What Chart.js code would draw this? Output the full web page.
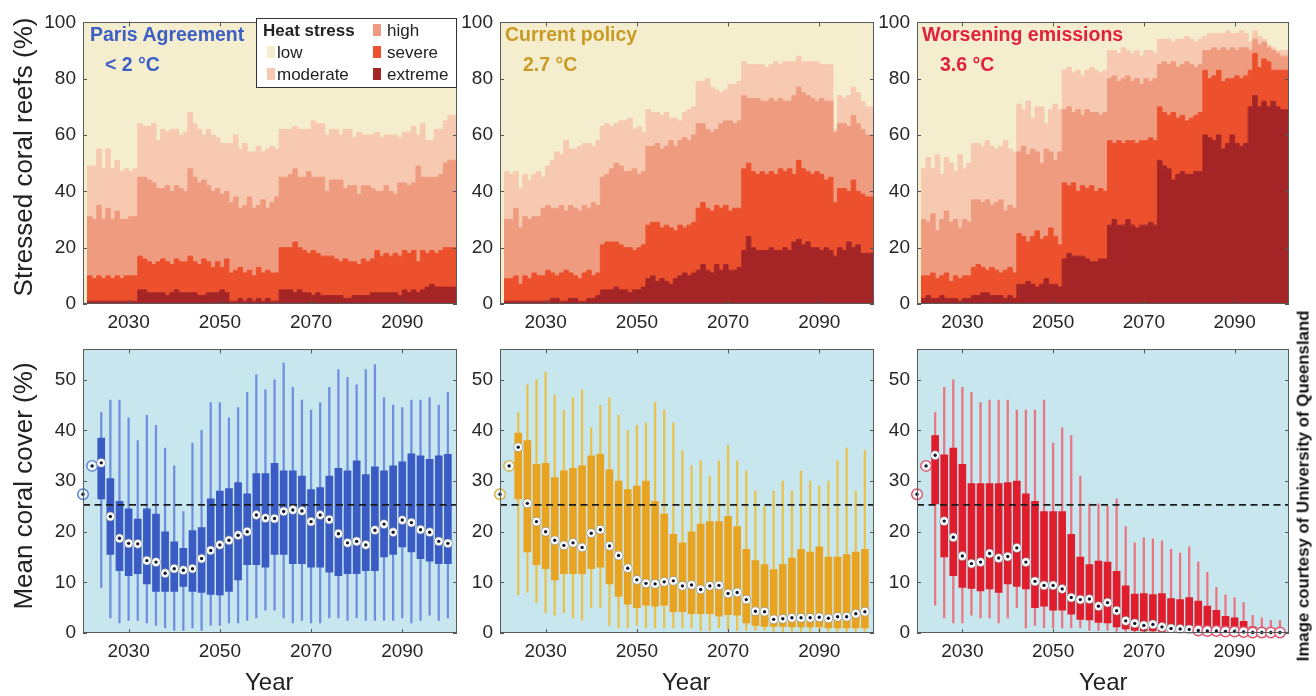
<!DOCTYPE html>
<html>
<head>
<meta charset="utf-8">
<title>Coral reef heat stress and coral cover projections</title>
<script src="https://cdn.jsdelivr.net/npm/chart.js@4.4.1/dist/chart.umd.min.js"></script>
<style>
  body { margin: 0; background: #fff; }
  #wrap { position: relative; width: 1316px; height: 696px; overflow: hidden;
          font-family: "Liberation Sans", Arial, sans-serif; color: #222; }
  canvas { position: absolute; }
  .lbl { position: absolute; white-space: nowrap; line-height: 1; transform: translateY(-50%); z-index: 10; }
  .rot { position: absolute; white-space: nowrap; line-height: 1; transform: translate(-50%, -50%) rotate(-90deg); z-index: 10; }
  .ttl { font-weight: bold; font-size: 19.5px; }
  #legend { position: absolute; left: 256px; top: 18px; width: 199px; height: 68px; background: #fff;
            border: 1px solid #333; z-index: 10; font-size: 17px; color: #222; }
  #legend .sw { position: absolute; width: 8px; height: 12px; }
  #legend .it { position: absolute; white-space: nowrap; line-height: 1; transform: translateY(-50%); }
</style>
</head>
<body>
<div id="wrap">
  <div class="rot" style="left:23px; top:157px; font-size:26px;">Stressed coral reefs (%)</div>
  <div class="rot" style="left:23px; top:486px; font-size:26px;">Mean coral cover (%)</div>

  <div class="lbl ttl" style="left:90px; top:35px; color:#3d5fc5;">Paris Agreement</div>
  <div class="lbl ttl" style="left:105px; top:65px; color:#3d5fc5;">&lt; 2 °C</div>
  <div class="lbl ttl" style="left:505px; top:35px; color:#c99a24;">Current policy</div>
  <div class="lbl ttl" style="left:523px; top:65px; color:#c99a24;">2.7 °C</div>
  <div class="lbl ttl" style="left:922px; top:35px; color:#e2213b;">Worsening emissions</div>
  <div class="lbl ttl" style="left:940px; top:65px; color:#e2213b;">3.6 °C</div>

  <div id="legend">
    <div class="it" style="left:6px; top:11px; font-weight:bold;">Heat stress</div>
    <div class="sw" id="sw-low" style="left:10px; top:27px;"></div>
    <div class="it" style="left:20px; top:33px;">low</div>
    <div class="sw" id="sw-moderate" style="left:10px; top:49px;"></div>
    <div class="it" style="left:20px; top:55px;">moderate</div>
    <div class="sw" id="sw-high" style="left:116px; top:5px;"></div>
    <div class="it" style="left:130px; top:11px;">high</div>
    <div class="sw" id="sw-severe" style="left:116px; top:27px;"></div>
    <div class="it" style="left:130px; top:33px;">severe</div>
    <div class="sw" id="sw-extreme" style="left:116px; top:49px;"></div>
    <div class="it" style="left:130px; top:55px;">extreme</div>
  </div>

  <div class="lbl" style="left:245px; top:682px; font-size:24px;">Year</div>
  <div class="lbl" style="left:662px; top:682px; font-size:24px;">Year</div>
  <div class="lbl" style="left:1079px; top:682px; font-size:24px;">Year</div>

  <div class="rot" style="left:1304px; top:486px; font-size:16.8px; font-weight:bold; color:#111;">Image courtesy of University of Queensland</div>
</div>

<script>
// ---------- axis categories and tick labels ----------
const stressYears = [
  2020, 2021, 2022, 2023, 2024, 2025, 2026, 2027, 2028, 2029,
  2030, 2031, 2032, 2033, 2034, 2035, 2036, 2037, 2038, 2039,
  2040, 2041, 2042, 2043, 2044, 2045, 2046, 2047, 2048, 2049,
  2050, 2051, 2052, 2053, 2054, 2055, 2056, 2057, 2058, 2059,
  2060, 2061, 2062, 2063, 2064, 2065, 2066, 2067, 2068, 2069,
  2070, 2071, 2072, 2073, 2074, 2075, 2076, 2077, 2078, 2079,
  2080, 2081, 2082, 2083, 2084, 2085, 2086, 2087, 2088, 2089,
  2090, 2091, 2092, 2093, 2094, 2095, 2096, 2097, 2098, 2099,
  2100, 2101
];
const boxYears = [
  2020, 2022, 2024, 2026, 2028, 2030, 2032, 2034, 2036, 2038,
  2040, 2042, 2044, 2046, 2048, 2050, 2052, 2054, 2056, 2058,
  2060, 2062, 2064, 2066, 2068, 2070, 2072, 2074, 2076, 2078,
  2080, 2082, 2084, 2086, 2088, 2090, 2092, 2094, 2096, 2098, 2100
];
const yearTicks = [2030, 2050, 2070, 2090];
const stressTicks = [0, 20, 40, 60, 80, 100];
const coverTicks = [0, 10, 20, 30, 40, 50];
const referenceCover = 25.3;   // present-day mean coral cover (dashed line)

// ---------- share of reefs at or above each heat-stress level (%) ----------
// Paris Agreement (< 2 °C)
const parisModerate = [53, 0,
  49, 49, 55, 48, 55, 48, 51, 47, 48, 47, 48,
  64, 63, 63, 64, 58, 62, 61, 62, 62, 60, 61,
  68, 64, 62, 60, 62, 60, 59, 57, 57, 57,
  60, 55, 57, 54, 54, 56, 54, 55, 56, 55,
  62, 62, 62, 63, 62, 62, 62, 65, 64, 64,
  60, 62, 62, 60, 62, 62, 59, 61, 60, 60,
  60, 61, 59, 60, 60, 60, 59, 61, 61, 63,
  60, 64, 58, 58, 62, 62, 65, 67];
const parisHigh = [6, 0,
  31, 30, 35, 30, 34, 30, 33, 30, 30, 31, 31,
  45, 45, 44, 43, 41, 41, 42, 40, 42, 41, 40,
  48, 45, 43, 44, 42, 40, 41, 39, 40, 36,
  38, 34, 35, 38, 34, 35, 37, 34, 36, 38,
  45, 45, 46, 48, 45, 45, 47, 45, 45, 45,
  40, 44, 44, 44, 41, 42, 42, 39, 42, 42,
  41, 40, 40, 42, 40, 39, 43, 43, 42, 43,
  49, 45, 45, 45, 45, 46, 50, 51];
const parisSevere = [5, 0,
  10, 9, 10, 9, 10, 9, 10, 9, 10, 10, 10,
  17, 16, 15, 14, 15, 16, 15, 14, 16, 15, 15,
  17, 15, 14, 16, 15, 13, 15, 13, 16, 11,
  12, 13, 11, 12, 10, 13, 11, 12, 11, 11,
  20, 20, 20, 22, 20, 19, 18, 19, 18, 17,
  17, 17, 16, 15, 16, 15, 15, 14, 16, 15,
  16, 19, 17, 18, 17, 18, 17, 19, 18, 19,
  15, 19, 18, 19, 18, 19, 20, 20];
const parisExtreme = [0, 0,
  1, 1, 1, 1, 1, 1, 1, 1, 1, 1, 1,
  5, 5, 4, 4, 4, 4, 3, 4, 5, 4, 4,
  4, 4, 3, 3, 4, 4, 4, 5, 4, 1,
  1, 2, 1, 2, 1, 2, 1, 2, 1, 1,
  5, 5, 5, 4, 5, 4, 4, 3, 4, 3,
  3, 3, 3, 3, 2, 2, 3, 3, 3, 3,
  4, 4, 4, 4, 4, 4, 3, 5, 4, 5,
  4, 5, 6, 7, 6, 6, 6, 6];

// Current policy (2.7 °C)
const policyModerate = [53, 0,
  47, 46, 47, 41, 46, 44, 46, 47, 45, 49, 51,
  54, 53, 58, 55, 55, 56, 57, 57, 56, 58, 63,
  64, 63, 64, 65, 65, 66, 62, 63, 61, 69,
  68, 68, 67, 68, 66, 66, 65, 68, 69, 70,
  79, 79, 80, 77, 76, 75, 76, 78, 78, 79,
  86, 85, 85, 85, 85, 84, 85, 86, 85, 86,
  86, 86, 88, 86, 86, 86, 86, 85, 85, 85,
  62, 74, 73, 74, 77, 75, 72, 70];
const policyHigh = [6, 0,
  30, 30, 34, 27, 31, 30, 31, 31, 34, 35, 34,
  34, 35, 33, 35, 34, 33, 35, 34, 36, 35, 45,
  46, 48, 50, 49, 47, 47, 48, 46, 47, 56,
  56, 57, 55, 56, 58, 56, 58, 59, 58, 60,
  64, 64, 62, 61, 62, 64, 65, 65, 64, 65,
  74, 73, 73, 73, 72, 72, 73, 72, 73, 72,
  72, 74, 77, 75, 74, 73, 72, 73, 72, 72,
  61, 64, 64, 63, 67, 64, 62, 60];
const policySevere = [5, 0,
  9, 9, 10, 7, 10, 9, 11, 10, 10, 12, 11,
  10, 11, 12, 11, 10, 9, 11, 12, 10, 11, 21,
  22, 22, 22, 21, 20, 20, 19, 20, 21, 28,
  29, 29, 27, 28, 27, 26, 28, 27, 28, 29,
  34, 36, 34, 33, 35, 34, 35, 33, 34, 34,
  48, 50, 47, 46, 47, 46, 47, 46, 48, 47,
  48, 46, 51, 48, 47, 46, 47, 46, 44, 45,
  36, 41, 41, 40, 44, 40, 39, 38];
const policyExtreme = [0, 0,
  1, 1, 1, 1, 1, 1, 1, 1, 1, 1, 2,
  2, 1, 1, 2, 2, 1, 1, 2, 2, 3, 5,
  5, 5, 6, 5, 5, 4, 5, 5, 6, 9,
  10, 8, 9, 8, 7, 9, 10, 11, 10, 11,
  12, 14, 12, 11, 14, 12, 14, 12, 12, 13,
  19, 24, 20, 19, 19, 19, 20, 19, 19, 20,
  19, 22, 23, 21, 22, 20, 20, 19, 20, 19,
  17, 20, 19, 22, 20, 21, 18, 18];

// Worsening emissions (3.6 °C)
const worseModerate = [53, 0,
  48, 52, 48, 53, 46, 52, 50, 47, 53, 48, 50,
  57, 57, 56, 58, 56, 55, 56, 58, 55, 54,
  71, 69, 72, 66, 70, 70, 64, 69, 71, 69,
  83, 84, 82, 83, 81, 83, 84, 83, 82, 83,
  90, 90, 89, 91, 90, 89, 90, 88, 90, 90, 89,
  94, 94, 94, 93, 94, 94, 95, 94, 93, 94,
  95, 96, 96, 96, 96, 97, 96, 96, 97, 96,
  93, 97, 95, 94, 92, 91, 90, 90];
const worseHigh = [6, 0,
  30, 29, 32, 26, 30, 33, 29, 30, 27, 30, 29,
  37, 37, 36, 37, 35, 36, 37, 33, 35, 34,
  54, 56, 53, 55, 54, 50, 55, 54, 51, 54,
  69, 70, 68, 69, 67, 69, 68, 68, 67, 68,
  80, 81, 79, 80, 81, 79, 80, 78, 80, 79, 80,
  85, 86, 85, 86, 84, 85, 86, 85, 84, 85,
  90, 90, 91, 90, 91, 90, 91, 90, 91, 91,
  90, 94, 92, 93, 91, 90, 89, 88];
const worseSevere = [5, 0,
  10, 10, 11, 9, 10, 11, 8, 10, 9, 10, 10,
  13, 14, 13, 12, 13, 12, 11, 12, 13, 11,
  25, 24, 22, 24, 26, 23, 24, 27, 24, 21,
  43, 42, 43, 40, 42, 41, 42, 40, 41, 40,
  58, 57, 58, 57, 58, 58, 57, 58, 58, 59, 58,
  70, 68, 67, 68, 66, 67, 65, 66, 67, 68,
  83, 80, 81, 83, 79, 80, 80, 81, 80, 81,
  83, 89, 84, 87, 86, 83, 83, 83];
const worseExtreme = [0, 0,
  2, 3, 2, 2, 3, 2, 2, 2, 1, 2, 2,
  3, 3, 4, 4, 3, 3, 3, 2, 3, 2,
  7, 7, 8, 7, 6, 7, 9, 7, 7, 6,
  16, 18, 17, 17, 17, 16, 15, 15, 16, 16,
  28, 30, 28, 28, 30, 28, 27, 28, 28, 29, 28,
  51, 49, 48, 44, 46, 47, 46, 46, 47, 47,
  60, 59, 58, 60, 55, 57, 60, 57, 56, 57,
  70, 74, 70, 72, 70, 72, 70, 69];

// ---------- mean coral cover distributions (%), every second year ----------
// Paris Agreement
const parisMedian = [27.4, 33.0, 33.6, 23.0, 18.7, 17.7, 17.6, 14.3, 14.0, 11.8, 12.7, 12.4, 12.7, 14.7, 16.3, 17.4, 18.3, 19.3, 20.0, 23.3, 22.7, 22.6, 24.0, 24.3, 24.1, 22.0, 23.3, 22.4, 19.6, 17.8, 18.1, 17.4, 20.3, 21.5, 19.9, 22.3, 21.8, 20.4, 19.9, 18.1, 17.7];
const parisQ1 = [null, null, 26.5, 15.5, 12.3, 11.3, 11.7, 9.7, 8.2, 8.2, 8.2, 9.2, 8.2, 8.0, 7.6, 7.5, 8.2, 10.5, 13.5, 13.5, 13.0, 15.5, 15.5, 13.7, 13.7, 13.0, 13.0, 12.0, 11.3, 11.7, 11.7, 12.3, 12.3, 15.0, 15.5, 17.0, 16.0, 14.7, 14.2, 13.7, 13.7];
const parisQ3 = [null, null, 38.5, 30.5, 26.0, 24.5, 22.5, 24.5, 23.5, 20.0, 18.0, 16.7, 20.2, 20.8, 26.5, 28.0, 28.5, 29.7, 27.5, 31.5, 31.5, 33.5, 32.0, 32.0, 31.0, 28.3, 28.7, 31.0, 32.5, 32.0, 34.0, 31.3, 32.8, 32.0, 33.0, 33.8, 35.4, 35.0, 34.3, 35.0, 35.3];
const parisLow = [null, null, 9, 3, 2, 2.5, 2.5, 2, 1.5, 1, 0.5, 0.5, 1, 0.5, 1.5, 1.5, 2, 2, 2.5, 3, 4.5, 4.5, 3, 2, 2.5, 2, 2, 3, 3, 2.5, 3, 2.5, 2.5, 2.5, 2.5, 3, 2, 2.5, 3.5, 2.5, 3];
const parisHighW = [null, null, 43.5, 46, 46, 42.5, 38, 43, 41, 36.5, 33, 24, 37.5, 40, 45.5, 45.5, 42.5, 44.5, 47.5, 51, 48, 50, 53.3, 48.5, 46, 44, 45.5, 48.5, 52, 50.5, 49, 52, 53, 46.5, 45, 44.5, 46, 46, 46.5, 45, 47.5];

// Current policy
const policyMedian = [27.4, 33.0, 36.7, 25.6, 22.0, 20.0, 18.3, 17.3, 17.8, 16.9, 19.7, 20.4, 17.2, 15.3, 12.8, 10.5, 9.8, 9.7, 10.1, 10.3, 9.3, 9.5, 8.6, 9.3, 9.4, 7.8, 8.0, 6.6, 4.3, 4.2, 2.7, 2.8, 3.0, 3.0, 3.0, 3.1, 2.9, 3.2, 3.2, 3.8, 4.2];
const policyQ1 = [null, null, 26.5, 16.0, 13.5, 12.7, 10.5, 11.7, 11.7, 11.7, 12.7, 13.0, 9.7, 7.2, 5.7, 5.0, 5.5, 5.3, 5.5, 4.2, 4.2, 3.8, 3.8, 3.8, 3.3, 3.6, 3.5, 2.0, 1.5, 1.3, 1.3, 1.3, 1.2, 1.2, 1.2, 1.2, 1.0, 1.0, 1.0, 1.0, 1.0];
const policyQ3 = [null, null, 39.5, 38.0, 33.3, 33.5, 30.7, 32.0, 32.5, 33.0, 35.0, 35.3, 32.2, 30.0, 28.3, 29.0, 30.0, 26.0, 23.5, 19.5, 17.8, 20.0, 21.5, 22.0, 22.0, 23.0, 21.0, 16.5, 14.3, 13.5, 12.5, 13.5, 14.8, 16.5, 16.0, 17.0, 15.0, 15.0, 15.5, 16.0, 16.5];
const policyLow = [null, null, 7.5, 8, 6, 4, 3.5, 4, 3, 2.5, 5, 5, 1.5, 1, 1, 1.5, 1, 1, 1, 1, 1, 1, 0.5, 0.5, 1, 0.5, 0.5, 0.5, 0.5, 0.5, 0.3, 0.3, 0.3, 0.3, 0.3, 0.3, 0.3, 0.3, 0.3, 0.3, 0.3];
const policyHighW = [null, null, 43.5, 49, 50, 51.5, 47, 44, 46.5, 48, 40.5, 45, 46.5, 43, 40, 41, 41.5, 45.5, 44, 41.5, 36, 33, 34, 31, 34, 37, 34, 32, 28, 25, 28, 30, 28, 32, 30, 29, 30, 34, 36.5, 28, 36];

// Worsening emissions
const worseMedian = [27.4, 33.0, 35.1, 22.1, 18.9, 15.2, 13.7, 14.0, 15.7, 14.8, 15.1, 16.8, 14.0, 10.2, 9.4, 9.4, 8.7, 7.0, 6.6, 6.7, 5.3, 6.0, 4.4, 2.4, 1.9, 1.5, 1.7, 1.2, 0.9, 0.8, 0.7, 0.5, 0.4, 0.4, 0.3, 0.3, 0.2, 0.1, 0.1, 0.1, 0.1];
const worseQ1 = [null, null, 25.5, 15.0, 11.3, 9.0, 8.8, 8.3, 8.7, 8.0, 9.7, 9.2, 8.7, 5.0, 5.3, 4.5, 4.5, 3.7, 2.7, 2.6, 2.1, 2.0, 1.2, 0.8, 0.5, 0.4, 0.4, 0.3, 0.3, 0.3, 0.2, 0.2, 0.2, 0.1, 0.1, 0.1, 0.1, 0, 0, 0, 0];
const worseQ3 = [null, null, 39.0, 35.2, 36.5, 33.3, 29.5, 29.5, 29.5, 29.5, 29.7, 30.0, 27.5, 26.0, 24.0, 24.0, 24.0, 19.5, 15.0, 13.5, 14.2, 14.0, 12.2, 9.3, 7.7, 7.8, 7.6, 7.8, 6.8, 6.6, 7.0, 6.3, 5.3, 4.5, 3.3, 3.0, 2.3, 1.2, 0.8, 0.6, 0.5];
const worseLow = [null, null, 5.5, 3, 2, 2, 3.5, 3, 3, 2, 3, 5, 1, 1.5, 1, 1, 1, 1, 1, 0.5, 0.5, 0.5, 0.3, 0.3, 0.2, 0.2, 0.2, 0.2, 0.1, 0.1, 0.1, 0.1, 0.1, 0, 0, 0, 0, 0, 0, 0, 0];
const worseHighW = [null, null, 43.5, 48.5, 50, 48.5, 47.5, 45.5, 46, 46, 46, 44, 44, 44, 46, 37.5, 40.5, 39, 31, 25.5, 25.5, 25, 26.5, 21, 17.8, 18.8, 18.6, 18.2, 16.5, 15.8, 17, 14, 12, 9, 7.5, 7, 6, 3.5, 3, 2.5, 2.5];

// ---------- styling ----------
const stressColors = {
  low: '#f4eecf', moderate: '#f6c9b0', high: '#ef9b80', severe: '#ec502c', extreme: '#a52426'
};
const scenarioStyles = [
  { box: '#3a5ac4', whisker: '#6f8fe0', ring: '#5c7fd8' },
  { box: '#e8a420', whisker: '#e9c24c', ring: '#d4b040' },
  { box: '#e01d2d', whisker: '#ea7480', ring: '#e0506a' }
];
const coverBackground = '#c8e6ee';
const tickFont = { family: '"Liberation Sans", Arial, sans-serif', size: 19 };
const tickColor = '#262626';
const xRange = { min: 2020, max: 2102 };

// plot rectangles on the page
const topRow = { y: 18, h: 286 }, bottomRow = { y: 345, h: 288 };
const columns = [{ x: 83, w: 374 }, { x: 500, w: 374 }, { x: 917, w: 372 }];
const PAD_L = 70, PAD_T = 14, PAD_R = 14, PAD_B = 40;

Object.keys(stressColors).forEach(k => {
  document.getElementById('sw-' + k).style.background = stressColors[k];
});

const wrap = document.getElementById('wrap');
function makeCanvas(col, row) {
  const c = document.createElement('canvas');
  c.width = col.w + PAD_L + PAD_R;
  c.height = row.h + PAD_T + PAD_B;
  c.style.left = (col.x - PAD_L) + 'px';
  c.style.top = (row.y - PAD_T) + 'px';
  c.style.width = c.width + 'px';
  c.style.height = c.height + 'px';
  wrap.appendChild(c);
  return c;
}

// chart-area background, box outline and inward tick marks
const framePlugin = {
  id: 'frame',
  beforeDraw(chart, args, opts) {
    const a = chart.chartArea, ctx = chart.ctx;
    ctx.save();
    ctx.fillStyle = opts.fill;
    ctx.fillRect(a.left, a.top, a.right - a.left, a.bottom - a.top);
    ctx.restore();
  },
  afterDraw(chart) {
    const a = chart.chartArea, ctx = chart.ctx;
    const xs = chart.scales.x, ys = chart.scales.y;
    const len = 4;
    ctx.save();
    ctx.strokeStyle = '#555';
    ctx.lineWidth = 1;
    ctx.beginPath();
    xs.ticks.forEach(t => {
      const px = Math.round(xs.getPixelForValue(t.value)) + 0.5;
      ctx.moveTo(px, a.bottom); ctx.lineTo(px, a.bottom - len);
      ctx.moveTo(px, a.top); ctx.lineTo(px, a.top + len);
    });
    ys.ticks.forEach(t => {
      const py = Math.round(ys.getPixelForValue(t.value)) + 0.5;
      ctx.moveTo(a.left, py); ctx.lineTo(a.left + len, py);
      ctx.moveTo(a.right, py); ctx.lineTo(a.right - len, py);
    });
    ctx.stroke();
    ctx.strokeStyle = '#5a5a5a';
    ctx.strokeRect(Math.round(a.left) + 0.5, Math.round(a.top) + 0.5,
                   Math.round(a.right - a.left) - 1, Math.round(a.bottom - a.top) - 1);
    ctx.restore();
  }
};

function xScale() {
  return {
    type: 'linear', min: xRange.min, max: xRange.max, offset: false,
    grid: { display: false, drawTicks: false }, border: { display: false },
    ticks: { font: tickFont, color: tickColor, padding: 7, maxRotation: 0, autoSkip: false,
             callback: v => String(v) },
    afterBuildTicks: s => { s.ticks = yearTicks.map(v => ({ value: v })); },
    afterFit: s => { s.height = PAD_B; }
  };
}
function yScale(min, max, ticks) {
  return {
    type: 'linear', min: min, max: max,
    grid: { display: false, drawTicks: false }, border: { display: false },
    ticks: { font: tickFont, color: tickColor, padding: 7, callback: v => String(v) },
    afterBuildTicks: s => { s.ticks = ticks.map(v => ({ value: v })); },
    afterFit: s => { s.width = PAD_L; }
  };
}

// each year's level holds until the start of the next year
function stepPoints(values) {
  const pts = stressYears.map((yr, i) => ({ x: yr, y: values[i] }));
  pts.push({ x: stressYears[stressYears.length - 1] + 1, y: values[values.length - 1] });
  return pts;
}

function stressChart(col, series) {
  const layer = (vals, color, fill) => ({
    data: stepPoints(vals), stepped: 'after', fill: fill,
    backgroundColor: color, borderColor: color, borderWidth: 1,
    pointRadius: 0, tension: 0
  });
  new Chart(makeCanvas(col, topRow), {
    type: 'line',
    data: { datasets: [
      layer(series.extreme, stressColors.extreme, 'origin'),
      layer(series.severe, stressColors.severe, '-1'),
      layer(series.high, stressColors.high, '-1'),
      layer(series.moderate, stressColors.moderate, '-1')
    ] },
    options: {
      responsive: false, animation: false, events: [],
      layout: { padding: { top: PAD_T, right: PAD_R, left: 0, bottom: 0 } },
      plugins: { legend: { display: false }, tooltip: { enabled: false },
                 frame: { fill: stressColors.low } },
      scales: { x: xScale(), y: yScale(0, 100, stressTicks) }
    },
    plugins: [framePlugin]
  });
}

function coverChart(col, d, style) {
  const idx = boxYears.map((_, i) => i).filter(i => d.q1[i] !== null);
  const ringed = i => d.q1[i] === null || d.median[i] <= 0.5;
  new Chart(makeCanvas(col, bottomRow), {
    type: 'bar',
    data: { datasets: [
      { type: 'bar', order: 5, grouped: false, barThickness: 1.6,
        backgroundColor: style.whisker,
        data: idx.map(i => ({ x: boxYears[i], y: [d.low[i], d.high[i]] })) },
      { type: 'bar', order: 4, grouped: false, barThickness: 7,
        backgroundColor: style.box,
        data: idx.map(i => ({ x: boxYears[i], y: [d.q1[i], d.q3[i]] })) },
      { type: 'line', order: 3, borderColor: '#1c1c1c', borderWidth: 1.8, borderDash: [7, 4.5],
        pointRadius: 0, fill: false,
        data: [{ x: xRange.min, y: referenceCover }, { x: xRange.max, y: referenceCover }] },
      { type: 'line', order: 2, showLine: false, clip: false,
        data: boxYears.map((yr, i) => ({ x: yr, y: d.median[i] })),
        pointRadius: c => ringed(c.dataIndex) ? 5.3 : 4.4,
        pointBackgroundColor: c => ringed(c.dataIndex) ? '#eef6f8' : '#ffffff',
        pointBorderColor: c => ringed(c.dataIndex) ? style.ring : '#7b868c',
        pointBorderWidth: c => ringed(c.dataIndex) ? 1.4 : 0.6 },
      { type: 'line', order: 1, showLine: false, clip: false,
        data: boxYears.map((yr, i) => ({ x: yr, y: d.median[i] })),
        pointRadius: 1.7, pointBackgroundColor: '#121a30', pointBorderWidth: 0 }
    ] },
    options: {
      responsive: false, animation: false, events: [],
      layout: { padding: { top: PAD_T, right: PAD_R, left: 0, bottom: 0 } },
      plugins: { legend: { display: false }, tooltip: { enabled: false },
                 frame: { fill: coverBackground } },
      scales: { x: xScale(), y: yScale(0, 56, coverTicks) }
    },
    plugins: [framePlugin]
  });
}

stressChart(columns[0], { moderate: parisModerate, high: parisHigh, severe: parisSevere, extreme: parisExtreme });
stressChart(columns[1], { moderate: policyModerate, high: policyHigh, severe: policySevere, extreme: policyExtreme });
stressChart(columns[2], { moderate: worseModerate, high: worseHigh, severe: worseSevere, extreme: worseExtreme });

coverChart(columns[0], { median: parisMedian, q1: parisQ1, q3: parisQ3, low: parisLow, high: parisHighW }, scenarioStyles[0]);
coverChart(columns[1], { median: policyMedian, q1: policyQ1, q3: policyQ3, low: policyLow, high: policyHighW }, scenarioStyles[1]);
coverChart(columns[2], { median: worseMedian, q1: worseQ1, q3: worseQ3, low: worseLow, high: worseHighW }, scenarioStyles[2]);
</script>
</body>
</html>
